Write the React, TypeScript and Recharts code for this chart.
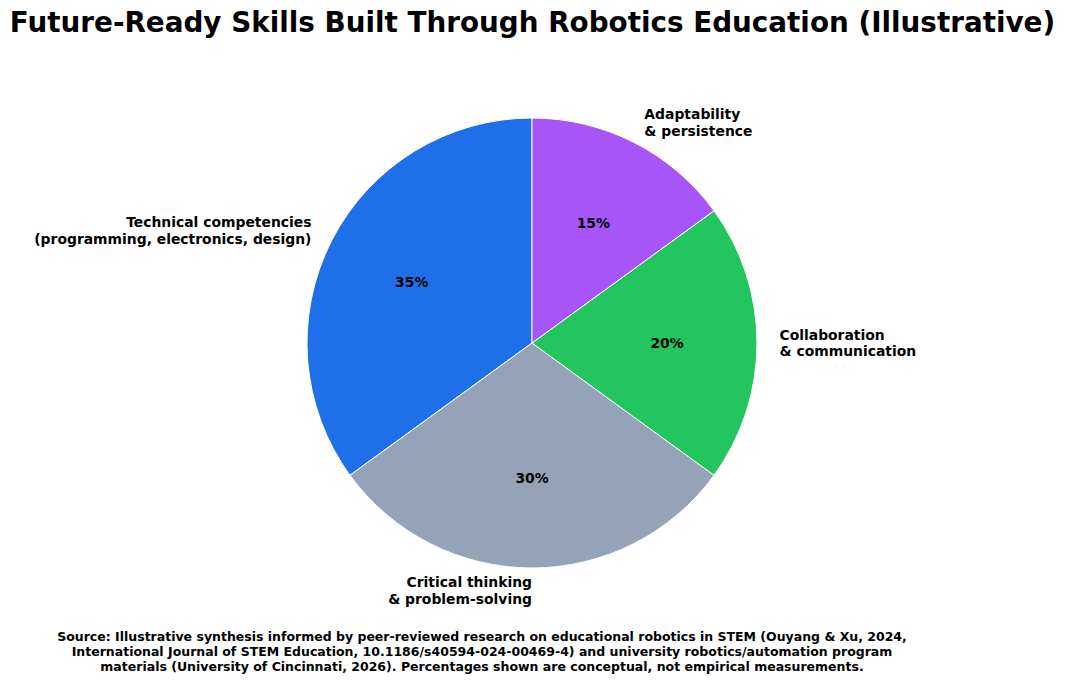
import React from 'react';
import { PieChart, Pie, Cell } from 'recharts';

const skillLabels = [
  'Technical competencies\n(programming, electronics, design)',
  'Critical thinking\n& problem-solving',
  'Collaboration\n& communication',
  'Adaptability\n& persistence',
];
const skillShares = [35, 30, 20, 15];
const sliceColors = ['#1f6feb', '#94a3b8', '#22c55e', '#a855f7'];

const chartData = skillLabels.map((name, i) => ({ name, value: skillShares[i] }));

const FONT = '"DejaVu Sans", sans-serif';
const RAD = Math.PI / 180;

const renderLabel = (props: any) => {
  const { cx, cy, midAngle, outerRadius, percent, name, index } = props;
  const cos = Math.cos(midAngle * RAD);
  const sin = Math.sin(midAngle * RAD);
  const lx = cx + outerRadius * 1.1 * cos;
  const ly = cy - outerRadius * 1.1 * sin;
  const px = cx + outerRadius * 0.6 * cos;
  const py = cy - outerRadius * 0.6 * sin;
  const lines = String(name).split('\n');
  const lineH = 16.5;
  const anchor = cos > 1e-9 ? 'start' : 'end';
  return (
    <g key={`lbl-${index}`}>
      <text
        x={lx}
        y={ly}
        textAnchor={anchor}
        fontFamily={FONT}
        fontWeight="bold"
        fontSize={13.9}
        fill="#000"
      >
        {lines.map((ln, i) => (
          <tspan
            key={i}
            x={lx}
            y={ly + (i - (lines.length - 1) / 2) * lineH}
            dominantBaseline="central"
          >
            {ln}
          </tspan>
        ))}
      </text>
      <text
        x={px}
        y={py}
        textAnchor="middle"
        dominantBaseline="central"
        fontFamily={FONT}
        fontWeight="bold"
        fontSize={13.9}
        fill="#000"
      >
        {`${Math.round(percent * 100)}%`}
      </text>
    </g>
  );
};

export default function App() {
  return (
    <div style={{ position: 'absolute', left: 0, top: 0, width: 1065, height: 684, background: '#fff' }}>
      <div
        style={{
          position: 'absolute',
          left: 0,
          top: 5,
          width: 1065,
          textAlign: 'center',
          fontFamily: FONT,
          fontWeight: 'bold',
          fontSize: 27.8,
          lineHeight: '36px',
          color: '#000',
        }}
      >
        Future-Ready Skills Built Through Robotics Education (Illustrative)
      </div>
      <PieChart
        width={1065}
        height={684}
        margin={{ top: 0, right: 0, bottom: 0, left: 0 }}
        style={{ position: 'absolute', left: 0, top: 0 }}
      >
        <Pie
          data={chartData}
          dataKey="value"
          nameKey="name"
          cx={532}
          cy={343}
          outerRadius={225}
          innerRadius={0}
          startAngle={90}
          endAngle={450}
          stroke="#fff"
          strokeWidth={1}
          label={renderLabel}
          labelLine={false}
          isAnimationActive={false}
        >
          {chartData.map((d, i) => (
            <Cell key={d.name} fill={sliceColors[i]} />
          ))}
        </Pie>
      </PieChart>
      <div
        style={{
          position: 'absolute',
          left: 0,
          top: 629,
          width: 964,
          textAlign: 'center',
          fontFamily: FONT,
          fontWeight: 'bold',
          fontSize: 12.5,
          lineHeight: '15px',
          color: '#000',
        }}
      >
        Source: Illustrative synthesis informed by peer-reviewed research on educational robotics in STEM (Ouyang &amp; Xu, 2024,
        <br />
        International Journal of STEM Education, 10.1186/s40594-024-00469-4) and university robotics/automation program
        <br />
        materials (University of Cincinnati, 2026). Percentages shown are conceptual, not empirical measurements.
      </div>
    </div>
  );
}
